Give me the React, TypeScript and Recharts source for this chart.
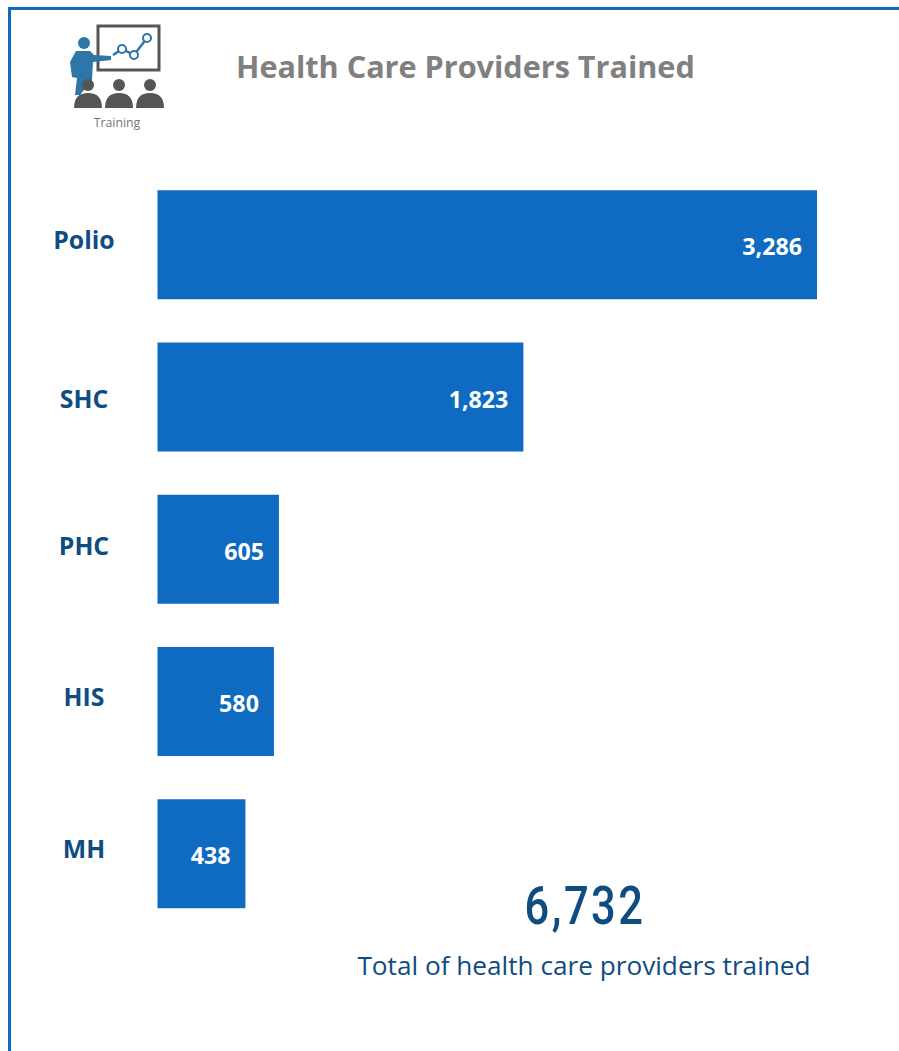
import { BarChart, Bar, XAxis, YAxis, LabelList } from "recharts";

const programs = ["Polio", "SHC", "PHC", "HIS", "MH"];
const trained = [3286, 1823, 605, 580, 438];
// the tick labels sit a little off the bar centres in the original
const tickNudge = [-5, 1.5, -4, -5, -5];

const BLUE = "#0F6BC1";
const NAVY = "#0F4C81";
const FONT = "'Open Sans', sans-serif";

const rows = programs.map((name, i) => ({ name, value: trained[i] }));

function ProgramTick({ y, payload, index }: any) {
  return (
    <text
      x={84}
      y={y + tickNudge[index]}
      textAnchor="middle"
      dominantBaseline="central"
      fill={NAVY}
      fontFamily={FONT}
      fontWeight={700}
      fontSize={24.8}
    >
      {payload.value}
    </text>
  );
}

function ValueLabel({ x, y, width, height, value }: any) {
  return (
    <text
      x={x + width - 15}
      y={y + height / 2 + 1.5}
      textAnchor="end"
      dominantBaseline="central"
      fill="#fff"
      fontFamily={FONT}
      fontWeight={700}
      fontSize={23.2}
    >
      {value.toLocaleString("en-US")}
    </text>
  );
}

function TrainingIcon() {
  const seats = [88, 119, 150];
  return (
    <svg width={899} height={140} style={{ position: "absolute", left: 0, top: 0 }}>
      <rect x={98} y={26} width={61} height={44} fill="#fff" stroke="#555" strokeWidth={3} />
      <polyline points="113,55 122,49 134,55 147,38" fill="none" stroke="#2E75A8" strokeWidth={2.5} />
      {[
        [122, 49],
        [134, 55],
        [147, 38],
      ].map(([cx, cy]) => (
        <circle key={cx} cx={cx} cy={cy} r={4} fill="#fff" stroke="#2E75A8" strokeWidth={2} />
      ))}
      <circle cx={84} cy={43} r={6} fill="#2E75A8" />
      <path d="M76 51 L90 51 L94 55 L111 56 L111 60 L93 62 L92 80 L80 95 L75 95 L77 78 L72 77 L70 62 Z" fill="#2E75A8" />
      {seats.map((cx) => (
        <g key={cx} fill="#555">
          <circle cx={cx} cy={85} r={6} />
          <path d={`M${cx - 14} 108 Q${cx - 14} 93 ${cx} 93 Q${cx + 14} 93 ${cx + 14} 108 Z`} />
        </g>
      ))}
      <text x={117} y={127} textAnchor="middle" fontFamily={FONT} fontSize={12.3} fill="#777">
        Training
      </text>
    </svg>
  );
}

export default function App() {
  return (
    <div style={{ position: "absolute", left: 0, top: 0, width: 899, height: 1051, background: "#fff", overflow: "hidden" }}>
      <div style={{ position: "absolute", left: 8, top: 7, right: 0, bottom: 0, borderLeft: `3px solid ${BLUE}`, borderTop: `3px solid ${BLUE}` }} />
      <TrainingIcon />
      <div style={{ position: "absolute", left: 236, top: 44, fontFamily: FONT, fontWeight: 700, fontSize: 30.6, lineHeight: "44px", color: "#808080", whiteSpace: "nowrap" }}>
        Health Care Providers Trained
      </div>
      <div style={{ position: "absolute", left: 0, top: 0 }}>
        <BarChart
          width={899}
          height={1051}
          data={rows}
          layout="vertical"
          margin={{ top: 168.3, right: 82, bottom: 121.5, left: 0 }}
          barSize={109}
        >
          <XAxis type="number" domain={[0, 3286]} hide />
          <YAxis
            type="category"
            dataKey="name"
            width={157.5}
            axisLine={false}
            tickLine={false}
            tick={<ProgramTick />}
            interval={0}
          />
          <Bar dataKey="value" fill={BLUE} isAnimationActive={false}>
            <LabelList dataKey="value" content={<ValueLabel />} />
          </Bar>
        </BarChart>
      </div>
      <div style={{ position: "absolute", left: 385, width: 400, top: 871, textAlign: "center", fontFamily: "Roboto, sans-serif", fontWeight: 500, fontSize: 53, lineHeight: "70px", letterSpacing: 3, color: NAVY, transform: "scaleX(0.82)" }}>
        6,732
      </div>
      <div style={{ position: "absolute", left: 284, width: 600, top: 946, textAlign: "center", fontFamily: FONT, fontSize: 26.2, lineHeight: "38px", color: NAVY }}>
        Total of health care providers trained
      </div>
    </div>
  );
}
